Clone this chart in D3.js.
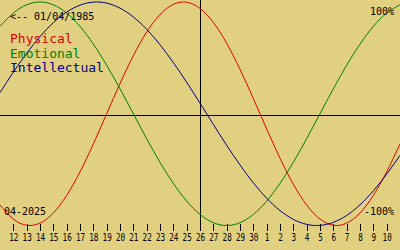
<!DOCTYPE html>
<html>
<head>
<meta charset="utf-8">
<script src="https://cdn.jsdelivr.net/npm/d3@7"></script>
<style>
  body { margin: 0; background: #e0d080; }
  svg { display: block; }
</style>
</head>
<body>
<script>
/* DATA */
// one value per day, 11 Apr .. 11 May (index 15 = day 26, centre line)
var days = [11, 12, 13, 14, 15, 16, 17, 18, 19, 20, 21, 22, 23, 24, 25, 26, 27, 28, 29, 30,
            1, 2, 3, 4, 5, 6, 7, 8, 9, 10, 11];
var physical = [-0.817, -0.942, -0.998, -0.979, -0.888, -0.731, -0.520, -0.270, 0.000, 0.270,
                0.520, 0.731, 0.888, 0.979, 0.998, 0.942, 0.817, 0.631, 0.398, 0.136,
                -0.136, -0.398, -0.631, -0.817, -0.942, -0.998, -0.979, -0.888, -0.731, -0.520, -0.270];
var emotional = [0.782, 0.901, 0.975, 1.000, 0.975, 0.901, 0.782, 0.623, 0.434, 0.223,
                 0.000, -0.223, -0.434, -0.623, -0.782, -0.901, -0.975, -1.000, -0.975, -0.901,
                 -0.782, -0.623, -0.434, -0.223, 0.000, 0.223, 0.434, 0.623, 0.782, 0.901, 0.975];
var intellectual = [0.189, 0.372, 0.541, 0.690, 0.815, 0.910, 0.972, 0.999, 0.990, 0.945,
                    0.866, 0.756, 0.618, 0.458, 0.282, 0.095, -0.095, -0.282, -0.458, -0.618,
                    -0.756, -0.866, -0.945, -0.990, -0.999, -0.972, -0.910, -0.815, -0.690, -0.541, -0.372];
var seriesNames = ['Physical', 'Emotional', 'Intellectual'];
var seriesColors = ['#e00000', '#008000', '#000080'];
var birthLabel = '<-- 01/04/1985';
var monthLabel = '04-2025';
var topLabel = '100%';
var bottomLabel = '-100%';

/* SETUP */
var width = 400;
var height = 250;
var bg = '#e0d080';
var monoFont = '"DejaVu Sans Mono", "Liberation Mono", monospace';

var x = d3.scaleLinear().domain([0, days.length - 1]).range([0, width]);
var y = d3.scaleLinear().domain([-1, 1]).range([225.5, 2]);

var svg = d3.select('body').append('svg')
    .attr('width', width)
    .attr('height', height);

svg.append('rect')
    .attr('width', width)
    .attr('height', height)
    .attr('fill', bg);

// zero line and centre (today) line
svg.append('line')
    .attr('x1', 0).attr('x2', width)
    .attr('y1', 115.5).attr('y2', 115.5)
    .attr('stroke', '#000')
    .attr('stroke-width', 1)
    .attr('shape-rendering', 'crispEdges');

svg.append('line')
    .attr('x1', Math.round(x(15)) + 0.5).attr('x2', Math.round(x(15)) + 0.5)
    .attr('y1', 0).attr('y2', 231)
    .attr('stroke', '#000')
    .attr('stroke-width', 1)
    .attr('shape-rendering', 'crispEdges');

// day axis along the bottom
var tickIdx = d3.range(1, days.length - 1);
var axis = d3.axisBottom(x)
    .tickValues(tickIdx)
    .tickFormat(i => days[i])
    .tickSize(7)
    .tickPadding(3);

var axisG = svg.append('g')
    .attr('transform', 'translate(0, 224)')
    .call(axis);
axisG.select('.domain').remove();
axisG.selectAll('line')
    .attr('stroke', '#000')
    .attr('shape-rendering', 'crispEdges');
axisG.selectAll('text')
    .attr('fill', '#000')
    .style('font', '10px ' + monoFont)
    .attr('textLength', i => String(days[i]).length * 4.6)
    .attr('lengthAdjust', 'spacingAndGlyphs');

// curves
var line = d3.line()
    .x((d, i) => x(i))
    .y(d => y(d))
    .curve(d3.curveNatural);

[physical, emotional, intellectual].forEach((vals, k) => {
    svg.append('path')
        .datum(vals)
        .attr('fill', 'none')
        .attr('stroke', seriesColors[k])
        .attr('stroke-width', 1)
        .attr('d', line);
});

// labels
svg.append('text')
    .attr('x', 10).attr('y', 20)
    .style('font', '10px ' + monoFont)
    .attr('fill', '#000')
    .text(birthLabel);

seriesNames.forEach((name, k) => {
    svg.append('text')
        .attr('x', 10).attr('y', 43 + k * 14.6)
        .style('font', '13px ' + monoFont)
        .attr('fill', seriesColors[k])
        .text(name);
});

svg.append('text')
    .attr('x', 394).attr('y', 15)
    .attr('text-anchor', 'end')
    .style('font', '10px ' + monoFont)
    .attr('fill', '#000')
    .text(topLabel);

svg.append('text')
    .attr('x', 394).attr('y', 215)
    .attr('text-anchor', 'end')
    .style('font', '10px ' + monoFont)
    .attr('fill', '#000')
    .text(bottomLabel);

svg.append('text')
    .attr('x', 4).attr('y', 215)
    .style('font', '10px ' + monoFont)
    .attr('fill', '#000')
    .text(monthLabel);
</script>
</body>
</html>
